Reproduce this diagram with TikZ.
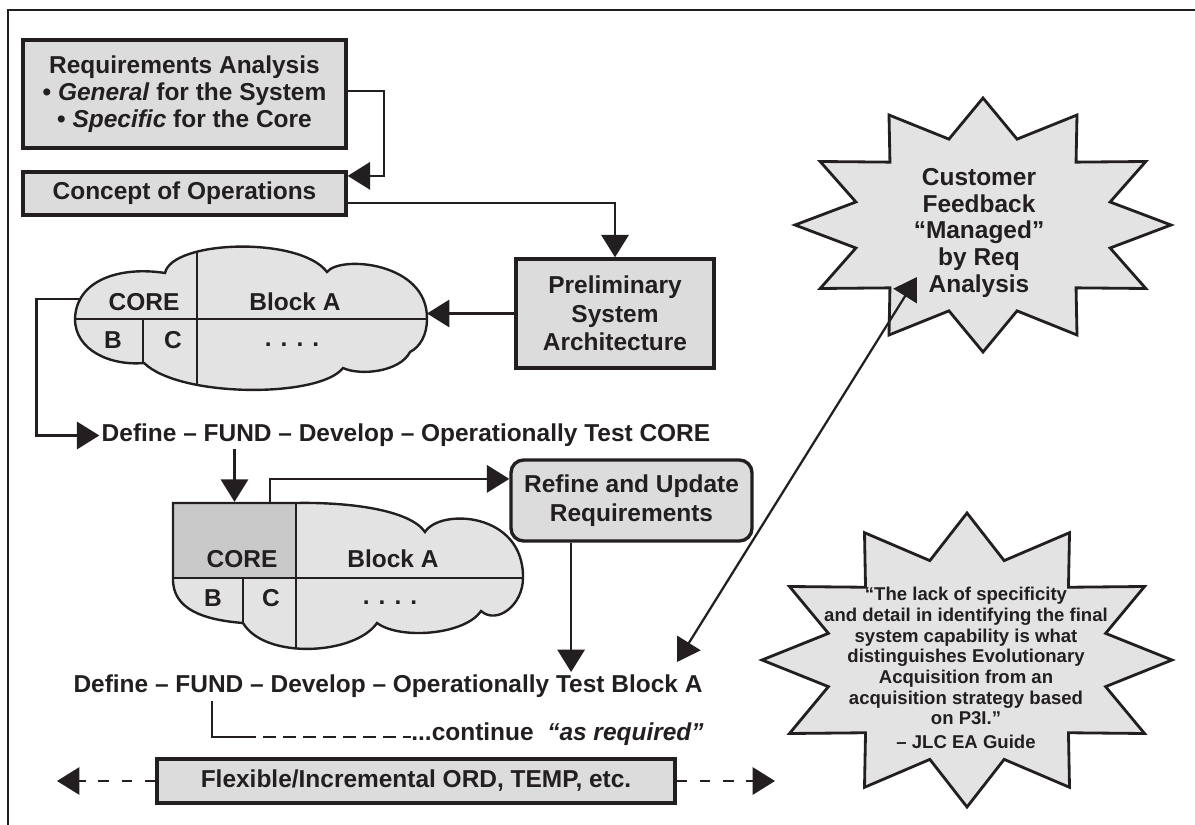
\documentclass[tikz,border=0pt]{standalone}
\usepackage{fontspec}
\setmainfont{Liberation Sans}
\usetikzlibrary{arrows.meta, positioning}

\definecolor{ink}{HTML}{231F20}
\definecolor{boxgray}{HTML}{DCDCDC}
\definecolor{cloudgray}{HTML}{E3E3E3}
\definecolor{coregray}{HTML}{C9C9C9}

\newcommand{\cloudApath}{(7.5,-31.9) .. controls (7.6,-28.0) and (12.0,-26.6) .. (16.5,-27.3)
  .. controls (17.2,-24.0) and (30.0,-23.6) .. (32.7,-27.2)
  .. controls (34.0,-25.5) and (42.8,-26.2) .. (42.7,-31.9)
  .. controls (42.7,-33.5) and (42.0,-34.7) .. (41.0,-35.2)
  .. controls (40.0,-37.2) and (36.0,-37.6) .. (34.3,-36.8)
  .. controls (32.0,-39.8) and (18.0,-39.8) .. (14.4,-36.3)
  .. controls (11.0,-36.6) and (7.5,-35.0) .. (7.5,-31.9) -- cycle}
\newcommand{\cloudBpath}{(29.6,-50.3) .. controls (35.0,-50.2) and (41.0,-51.0) .. (42.5,-53.2)
  .. controls (44.0,-50.8) and (52.4,-51.2) .. (52.3,-57.8)
  .. controls (52.3,-60.5) and (49.7,-62.5) .. (48.1,-61.1)
  .. controls (46.5,-63.5) and (40.0,-64.0) .. (37.7,-62.3)
  .. controls (35.5,-65.5) and (26.5,-66.0) .. (24.3,-62.3)
  .. controls (20.5,-62.0) and (17.2,-61.0) .. (17.3,-57.8)
  -- (17.3,-50.3) -- cycle}

\begin{document}
\begin{tikzpicture}[x=0.25cm, y=0.25cm,
    txt/.style={font=\fontsize{17.4}{19.2}\selectfont\bfseries, text=ink, align=center},
    box/.style={txt, draw=ink, fill=boxgray, line width=2.4pt},
    lbl/.style={txt, inner sep=1pt},
    cloudline/.style={draw=ink, line width=1.7pt},
    burst/.style={draw=ink, fill=cloudgray, line width=2pt, line join=miter},
    wire/.style={draw=ink, line width=1.6pt},
    arr/.style={wire, -{Triangle[length=16pt, width=19.5pt]}},
    dblarr/.style={wire, {Triangle[length=16pt, width=19.5pt]}-{Triangle[length=16pt, width=19.5pt]}},
    dasharr/.style={arr, dash pattern=on 7.5pt off 9pt}]
  \useasboundingbox (0,0) rectangle (119.5,-82.5);
  \draw[wire, line width=1.9pt] (0.8,-82.5) |- (119.5,-1.0);

  \node[box, minimum width=8.075cm, minimum height=2.7cm] (ra) at (18.45,-9.4) {Requirements Analysis\\• \textit{General} for the System\\• \textit{Specific} for the Core};
  \node[box, minimum width=8.075cm, minimum height=1.075cm] (conops) at (18.45,-19.35) {Concept of Operations};
  \node[box, minimum width=4.95cm, minimum height=2.725cm, font=\fontsize{17.4}{20.2}\selectfont\bfseries] (psa) at (61.5,-31.35) {Preliminary\\System\\Architecture};

  \fill[cloudgray] \cloudApath;
  \begin{scope}
    \clip \cloudApath;
    \draw[cloudline] (5,-31.9) -- (45,-31.9) (19.7,-22) -- (19.7,-42) (14.3,-31.9) -- (14.3,-42);
  \end{scope}
  \draw[cloudline] \cloudApath;
  \coordinate (cloudAwest) at (7.85,-29.9);
  \coordinate (cloudAeast) at (42.7,-31.35);
  \node[lbl] (coreA) at (14.4,-30.2) {CORE};
  \node[lbl] (blockA1) at (29.5,-30.2) {Block A};
  \node[lbl] (bA) at (11.3,-34.0) {B};
  \node[lbl] (cA) at (17.3,-34.0) {C};
  \node[lbl] (moreA) at (29.2,-34.5) {. . . .};

  \node[txt, inner sep=1.5pt] (defA) at (40.6,-43.55) {Define – FUND – Develop – Operationally Test CORE};

  \fill[cloudgray] \cloudBpath;
  \node[draw=ink, fill=coregray, line width=1.7pt, minimum width=3.075cm, minimum height=1.875cm, inner sep=0pt] (coreB) at (23.45,-54.05) {};
  \begin{scope}
    \clip \cloudBpath;
    \draw[cloudline] (15,-57.8) -- (55,-57.8) (29.6,-49) -- (29.6,-68) (24.3,-57.8) -- (24.3,-68);
  \end{scope}
  \draw[cloudline] \cloudBpath;
  \node[lbl] (coreBtxt) at (24.2,-55.9) {CORE};
  \node[lbl] (blockA2) at (39.3,-55.9) {Block A};
  \node[lbl] (bB) at (21.3,-59.8) {B};
  \node[lbl] (cB) at (27.1,-59.8) {C};
  \node[lbl] (moreB) at (39.0,-60.3) {. . . .};

  \node[box, rounded corners=9pt, minimum width=6.025cm, minimum height=2.025cm, font=\fontsize{17.4}{20.4}\selectfont\bfseries] (refine) at (63.15,-50.05) {Refine and Update\\Requirements};
  \node[txt, inner sep=2pt] (defB) at (38.8,-68.65) {Define – FUND – Develop – Operationally Test Block A};
  \node[txt, inner sep=0pt] (cont) at (55.75,-73.45) {...continue\ \ \textit{“as required”}};
  \node[box, minimum width=12.95cm, minimum height=1.1cm] (flex) at (41.6,-78.1) {Flexible/Incremental ORD, TEMP, etc.};

  \begin{scope}[shift={(98.3,-22.5)}, xscale=18.8, yscale=12.7]
    \filldraw[burst] (0:1) \foreach \a in {0,30,...,300} { -- (\a+15:0.7) -- (\a+30:1) } -- (345:0.7) -- cycle;
  \end{scope}
  \begin{scope}[shift={(96.7,-66)}, xscale=20.5, yscale=14.7]
    \filldraw[burst] (0:1) \foreach \a in {0,30,...,300} { -- (\a+15:0.7) -- (\a+30:1) } -- (345:0.7) -- cycle;
  \end{scope}
  \node[txt] (fb) at (97.9,-23.3) {Customer\\Feedback\\“Managed”\\by Req\\Analysis};
  \node[txt, font=\fontsize{13.2}{14.7}\selectfont\bfseries] (jlc) at (96.6,-66.8) {“The lack of specificity\\and detail in identifying the final\\system capability is what\\distinguishes Evolutionary\\Acquisition from an\\acquisition strategy based\\on P3I.”\\[2pt]– JLC EA Guide};

  \coordinate (fbTip) at (91.7,-27.7);
  \coordinate (blkTip) at (67.7,-66.2);
  \coordinate (refineOut) at ([xshift=-15.1mm]refine.south);
  \coordinate (contCorner) at (21.2,-73.7);
  \coordinate (flexL) at (5.7,-78.1);
  \coordinate (flexR) at (77.5,-78.1);

  \draw[arr] ([yshift=0.75mm]ra.east) -- ++(3.6,0) |- ([yshift=4.4mm]conops.east);
  \draw[arr] ([yshift=-2.4mm]conops.east) -| (psa.north);
  \draw[arr] (psa.west) -- (cloudAeast);
  \draw[arr] (cloudAwest) -- ++(-4.2,0) |- (defA.west);
  \draw[arr] (coreB.north |- defA.south) -- (coreB.north);
  \draw[arr] ([xshift=8.9mm]coreB.north) |- ([yshift=5.4mm]refine.west);
  \draw[arr] (refineOut) -- (refineOut |- defB.north);
  \draw[dblarr] (blkTip) -- (fbTip);
  \draw[wire] (contCorner |- defB.south) -- (contCorner) -- ++(3.1,0) coordinate (contDash);
  \draw[wire, dash pattern=on 9.2pt off 5pt] (contDash) -- (cont.west |- contCorner);
  \draw[dasharr] (flex.west) -- (flexL);
  \draw[dasharr] (flex.east) -- (flexR);
\end{tikzpicture}
\end{document}
